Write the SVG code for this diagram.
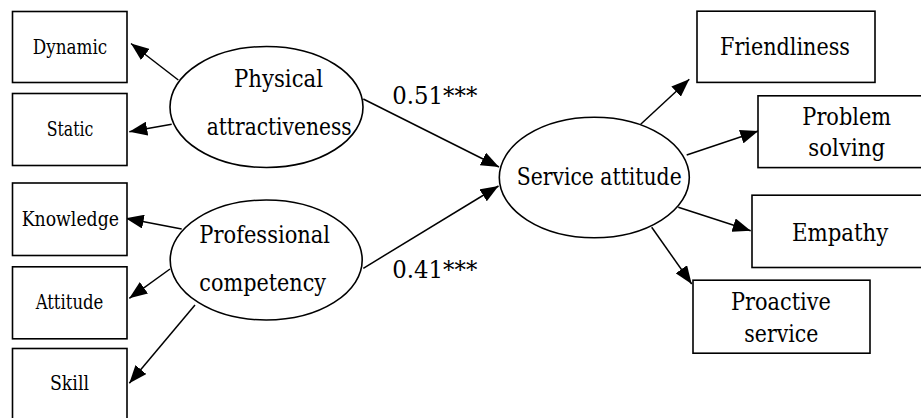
<svg xmlns="http://www.w3.org/2000/svg" width="921" height="418" viewBox="0 0 921 418">
<style>
  .box { fill: #fff; stroke: #000; stroke-width: 1.6; }
  .ell { fill: #fff; stroke: #000; stroke-width: 1.6; }
  .lbl { font-family: "DejaVu Serif Condensed", "DejaVu Serif", serif; font-stretch: condensed; fill: #000; text-anchor: middle; }
  .sm { font-size: 19.5px; }
  .lg { font-size: 24.5px; }
  .edge { stroke: #000; stroke-width: 1.5; fill: none; marker-end: url(#ah); }
</style>
<defs>
  <marker id="ah" markerUnits="userSpaceOnUse" viewBox="0 0 18 14" refX="18" refY="7" markerWidth="18" markerHeight="14" orient="auto">
    <path d="M0,0 L18,7 L0,14 z" fill="#000"/>
  </marker>
</defs>
<rect width="921" height="418" fill="#fff"/>

<g id="connectors">
  <line class="edge" x1="178.3" y1="80" x2="131" y2="43.5"/>
  <line class="edge" x1="171.7" y1="124.3" x2="129.3" y2="131.7"/>
  <line class="edge" x1="181.7" y1="229" x2="125.7" y2="218.3"/>
  <line class="edge" x1="170" y1="269" x2="129.3" y2="298.3"/>
  <line class="edge" x1="195" y1="305" x2="129.3" y2="383.3"/>
  <line class="edge" x1="363.3" y1="99" x2="499" y2="167"/>
  <line class="edge" x1="363.3" y1="268.3" x2="498.5" y2="186"/>
  <line class="edge" x1="640.7" y1="124.3" x2="689.3" y2="79.3"/>
  <line class="edge" x1="686.7" y1="155" x2="758.3" y2="131"/>
  <line class="edge" x1="678.3" y1="207.3" x2="750.7" y2="230.7"/>
  <line class="edge" x1="651.7" y1="227.3" x2="691.7" y2="284"/>
  <text class="lbl lg" x="434.8" y="104.3" textLength="85" lengthAdjust="spacingAndGlyphs">0.51***</text>
  <text class="lbl lg" x="434.8" y="278.3" textLength="85" lengthAdjust="spacingAndGlyphs">0.41***</text>
</g>

<g id="dynamic">
  <rect class="box" x="12.5" y="11.5" width="114.5" height="71"/>
  <text class="lbl sm" x="70" y="53.8" textLength="74.5" lengthAdjust="spacingAndGlyphs">Dynamic</text>
</g>
<g id="static">
  <rect class="box" x="12.5" y="93.5" width="114.5" height="72"/>
  <text class="lbl sm" x="70" y="136" textLength="46.7" lengthAdjust="spacingAndGlyphs">Static</text>
</g>
<g id="knowledge">
  <rect class="box" x="12.5" y="183" width="114.5" height="72.5"/>
  <text class="lbl sm" x="70.3" y="225.5" textLength="97.3" lengthAdjust="spacingAndGlyphs">Knowledge</text>
</g>
<g id="attitude">
  <rect class="box" x="12.5" y="266.8" width="114.5" height="72"/>
  <text class="lbl sm" x="69.5" y="309" textLength="67.7" lengthAdjust="spacingAndGlyphs">Attitude</text>
</g>
<g id="skill">
  <rect class="box" x="12.5" y="348.5" width="114.5" height="72"/>
  <text class="lbl sm" x="69.5" y="390" textLength="39" lengthAdjust="spacingAndGlyphs">Skill</text>
</g>

<g id="physical-attractiveness">
  <ellipse class="ell" cx="266.5" cy="107" rx="96.5" ry="60.5"/>
  <text class="lbl lg" x="278.5" y="87" textLength="89" lengthAdjust="spacingAndGlyphs">Physical</text>
  <text class="lbl lg" x="279.2" y="134.8" textLength="145" lengthAdjust="spacingAndGlyphs">attractiveness</text>
</g>
<g id="professional-competency">
  <ellipse class="ell" cx="266.2" cy="260" rx="96" ry="60"/>
  <text class="lbl lg" x="264.7" y="243.3" textLength="130.7" lengthAdjust="spacingAndGlyphs">Professional</text>
  <text class="lbl lg" x="262.7" y="291.2" textLength="126.7" lengthAdjust="spacingAndGlyphs">competency</text>
</g>
<g id="service-attitude">
  <ellipse class="ell" cx="594.3" cy="177.5" rx="95" ry="60.2"/>
  <text class="lbl lg" x="599.2" y="184.8" textLength="165" lengthAdjust="spacingAndGlyphs">Service attitude</text>
</g>

<g id="friendliness">
  <rect class="box" x="697" y="11.2" width="178" height="71.2"/>
  <text class="lbl lg" x="785" y="55.2" textLength="130" lengthAdjust="spacingAndGlyphs">Friendliness</text>
</g>
<g id="problem-solving">
  <rect class="box" x="758" y="95.8" width="177.5" height="71.8"/>
  <text class="lbl lg" x="846.7" y="125" textLength="88.7" lengthAdjust="spacingAndGlyphs">Problem</text>
  <text class="lbl lg" x="846.7" y="155.8" textLength="76.7" lengthAdjust="spacingAndGlyphs">solving</text>
</g>
<g id="empathy">
  <rect class="box" x="752" y="195.2" width="177" height="72.3"/>
  <text class="lbl lg" x="840.2" y="240.5" textLength="96.3" lengthAdjust="spacingAndGlyphs">Empathy</text>
</g>
<g id="proactive-service">
  <rect class="box" x="693" y="280.2" width="177" height="73"/>
  <text class="lbl lg" x="780.9" y="310" textLength="99.7" lengthAdjust="spacingAndGlyphs">Proactive</text>
  <text class="lbl lg" x="781.3" y="341.5" textLength="74" lengthAdjust="spacingAndGlyphs">service</text>
</g>
</svg>
